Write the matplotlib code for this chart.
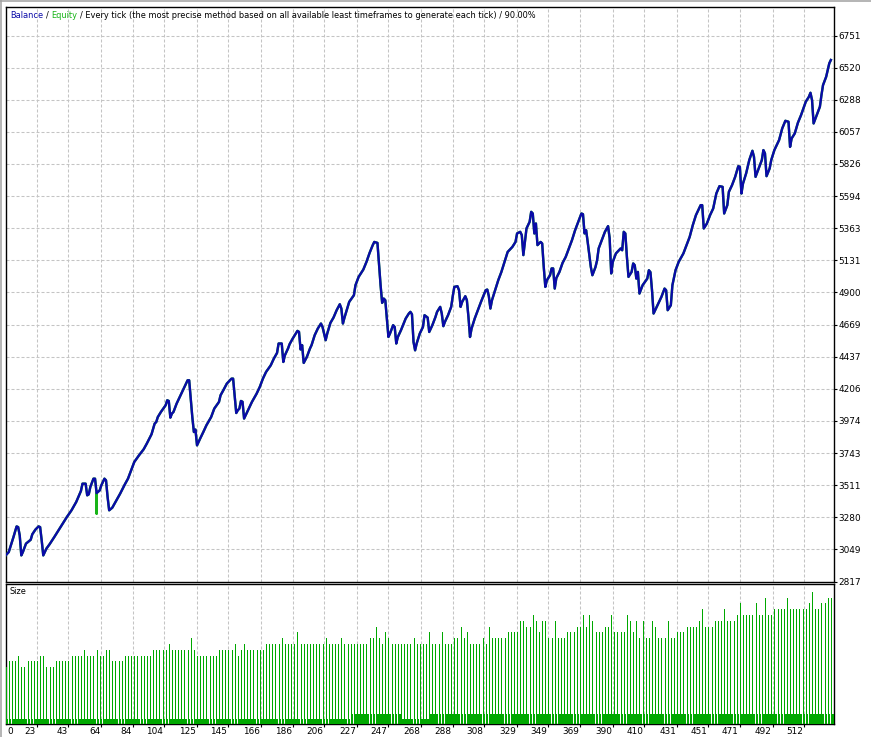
import numpy as np
import matplotlib
matplotlib.use("Agg")
import matplotlib.pyplot as plt
from matplotlib.lines import Line2D
import matplotlib.transforms as mtransforms

# ---------------- data ----------------
balance_idx = [
    3, 5, 6, 8, 10, 11, 12, 13, 14, 16,
    19, 20, 22, 24, 25, 26, 27, 29, 31, 34,
    38, 42, 45, 48, 51, 52, 54, 55, 56, 57,
    59, 60, 61, 63, 64, 66, 67, 68, 69, 71,
    73, 76, 79, 81, 83, 85, 88, 91, 93, 96,
    98, 99, 100, 102, 105, 106, 107, 108, 109, 110,
    112, 114, 116, 118, 119, 120, 121, 122, 123, 124,
    125, 127, 129, 131, 134, 136, 139, 140, 142, 144,
    147, 148, 149, 150, 151, 152, 153, 154, 155, 156,
    158, 160, 163, 165, 167, 169, 172, 174, 176, 177,
    179, 180, 181, 183, 184, 186, 189, 190, 191, 192,
    193, 195, 197, 198, 200, 202, 204, 205, 207, 208,
    210, 212, 214, 216, 217, 218, 219, 221, 222, 225,
    226, 228, 231, 233, 235, 237, 238, 240, 241, 242,
    243, 244, 245, 246, 247, 248, 250, 251, 252, 253,
    255, 258, 260, 261, 262, 263, 264, 265, 267, 269,
    270, 272, 273, 275, 277, 278, 280, 281, 282, 283,
    285, 287, 288, 289, 291, 292, 293, 294, 296, 297,
    298, 299, 300, 302, 304, 306, 309, 310, 311, 312,
    313, 315, 317, 319, 321, 323, 326, 328, 329, 331,
    332, 333, 334, 335, 337, 338, 339, 340, 341, 342,
    344, 345, 346, 347, 348, 350, 351, 352, 353, 354,
    356, 358, 360, 362, 364, 366, 368, 370, 371, 372,
    373, 374, 376, 377, 379, 380, 381, 383, 385, 387,
    388, 389, 390, 392, 395, 396, 397, 398, 399, 400,
    402, 403, 404, 405, 406, 407, 409, 412, 413, 414,
    415, 416, 418, 421, 423, 424, 425, 427, 428, 430,
    432, 435, 437, 439, 441, 443, 446, 447, 448, 450,
    452, 454, 456, 458, 460, 461, 463, 464, 466, 468,
    470, 471, 472, 473, 475, 477, 479, 480, 481, 483,
    485, 486, 487, 488, 490, 491, 493, 496, 498, 500,
    502, 503, 504, 506, 508, 510, 513, 515, 516, 517,
    518, 520, 522, 523, 524, 526, 528, 529,
]
balance_val = [
    3005, 3029, 3065, 3137, 3214, 3209, 3149, 3005, 3029, 3090,
    3118, 3157, 3191, 3214, 3209, 3113, 3005, 3054, 3085, 3137,
    3209, 3281, 3330, 3390, 3469, 3522, 3522, 3438, 3445, 3498,
    3558, 3558, 3454, 3474, 3510, 3558, 3546, 3426, 3330, 3349,
    3390, 3450, 3517, 3558, 3618, 3678, 3726, 3770, 3811, 3878,
    3955, 3966, 4002, 4039, 4087, 4123, 4118, 3998, 4027, 4039,
    4099, 4147, 4195, 4243, 4267, 4267, 4135, 4002, 3894, 3912,
    3798, 3847, 3894, 3943, 4002, 4063, 4111, 4159, 4200, 4243,
    4279, 4279, 4159, 4031, 4051, 4063, 4118, 4112, 3991, 4015,
    4063, 4111, 4171, 4219, 4279, 4327, 4375, 4424, 4464, 4532,
    4532, 4399, 4447, 4496, 4527, 4568, 4623, 4616, 4489, 4520,
    4392, 4435, 4496, 4520, 4592, 4640, 4676, 4651, 4556, 4604,
    4680, 4719, 4772, 4815, 4784, 4676, 4719, 4796, 4832, 4880,
    4952, 5012, 5065, 5120, 5185, 5241, 5264, 5257, 5109, 4952,
    4825, 4856, 4844, 4712, 4579, 4604, 4664, 4651, 4532, 4579,
    4628, 4712, 4748, 4760, 4743, 4543, 4483, 4532, 4604, 4651,
    4736, 4719, 4615, 4664, 4724, 4760, 4796, 4748, 4657, 4688,
    4736, 4796, 4873, 4940, 4945, 4916, 4796, 4832, 4873, 4844,
    4724, 4579, 4640, 4712, 4772, 4832, 4916, 4921, 4873, 4784,
    4844, 4916, 4988, 5048, 5120, 5192, 5228, 5264, 5325, 5337,
    5313, 5169, 5262, 5361, 5409, 5481, 5469, 5325, 5397, 5241,
    5264, 5253, 5084, 4940, 4988, 5024, 5073, 5073, 4928, 5003,
    5048, 5113, 5156, 5217, 5277, 5349, 5409, 5469, 5464, 5325,
    5349, 5264, 5084, 5024, 5084, 5132, 5217, 5277, 5337, 5378,
    5291, 5037, 5120, 5181, 5217, 5204, 5337, 5325, 5156, 5012,
    5048, 5109, 5096, 5000, 5048, 4892, 4952, 5000, 5060, 5046,
    4916, 4748, 4796, 4868, 4928, 4916, 4772, 4808, 4952, 5060,
    5120, 5181, 5241, 5300, 5385, 5457, 5529, 5529, 5361, 5397,
    5457, 5505, 5613, 5666, 5661, 5469, 5529, 5625, 5673, 5733,
    5810, 5805, 5613, 5685, 5758, 5854, 5921, 5877, 5733, 5794,
    5854, 5926, 5902, 5738, 5794, 5854, 5926, 5998, 6082, 6137,
    6130, 5949, 6010, 6046, 6123, 6178, 6274, 6310, 6339, 6286,
    6118, 6178, 6238, 6322, 6394, 6454, 6551, 6575,
]

# equity drawdown spike (floating loss) visible in green
equity_dip_idx = [61]
equity_dip_val = [3306]

# lot size of each trade (in 0.01 lots)
trade_lots = [
    10, 11, 11, 11, 12, 10, 10, 11, 11, 11, 11, 12, 12, 10, 10, 10,
    11, 11, 11, 11, 11, 12, 12, 12, 12, 13, 12, 12, 12, 13, 12, 12,
    13, 13, 11, 11, 11, 11, 12, 12, 12, 12, 12, 12, 12, 12, 12,
    13, 13, 13, 13, 13, 14, 13, 13, 13, 13, 13, 13, 15, 13,
    12, 12, 12, 12, 12, 12, 12, 13, 13, 13, 13, 13, 14, 12, 13, 14,
    13, 13, 13, 13, 13, 13, 14, 14, 14, 14, 14, 15, 14, 14, 14, 14,
    16, 14, 14, 14, 14, 14, 14, 14, 14, 15, 14, 14, 14, 14, 15,
    14, 14, 14, 14, 14, 14, 14, 14, 15, 15, 17, 15, 14, 16, 15,
    14, 14, 14, 14, 14, 14, 14, 15, 14, 14, 14, 14, 16, 14, 14, 14,
    16, 14, 14, 14, 15, 15, 17, 15, 16, 14, 14, 14, 14, 15, 14, 17,
    15, 15, 15, 15, 15, 16, 16, 16, 16, 18, 18, 17, 17, 19, 18, 16,
    18, 18, 15, 15, 18, 15, 15, 15, 16, 16, 16, 17, 17, 19, 17, 19,
    18, 16, 16, 16, 17, 17, 19, 16, 16, 16, 16, 19, 18, 16, 18, 15,
    18, 15, 15, 18, 17, 15, 15, 15, 18, 15, 15, 16, 16, 16,
    17, 17, 17, 17, 18, 20, 17, 17, 17, 18, 18, 18, 20, 18, 18, 18,
    19, 21, 19, 19, 19, 19, 21, 19, 19, 22, 19, 19, 20, 20, 20, 20,
    22, 20, 20, 20, 20, 20, 20, 21, 23, 20, 20, 21, 21, 22, 22,
]
# closing-deal stubs (in 0.01 lots), as runs of (level, count)
close_stub_runs = [(1, 110), (2, 16), (1, 9), (2, 129)]

y_tick_labels = [2817, 3049, 3280, 3511, 3743, 3974, 4206, 4437, 4669,
                 4900, 5131, 5363, 5594, 5826, 6057, 6288, 6520, 6751]
x_tick_labels = [0, 23, 43, 64, 84, 104, 125, 145, 166, 186, 206, 227, 247,
                 268, 288, 308, 329, 349, 369, 390, 410, 431, 451, 471, 492, 512]

title_parts_text = ["Balance", "/", "Equity",
                    "/ Every tick (the most precise method based on all available least timeframes to generate each tick) / 90.00%"]

# ---------------- styling ----------------
W, H = 871, 737
BLUE = '#0a0aa8'
GREEN = '#00a800'
EQ_GREEN = '#18b418'
GRID = '#c4c4c4'
FS = 6.4
FS_T = 5.95

fig = plt.figure(figsize=(W / 100, H / 100), dpi=100)
fig.patch.set_facecolor('white')


def fx(px):
    return px / W


def fy(py):
    return 1 - py / H


L, R = 5.5, 834.0
ax = fig.add_axes([fx(L), fy(581.5), fx(R) - fx(L), fy(7) - fy(581.5)])
ax2 = fig.add_axes([fx(L), fy(723.5), fx(R) - fx(L), fy(583.5) - fy(723.5)])

XLIM = (2.93, 531.0)
dash = (0, (2.9, 1.9))

# ---- main panel ----
eq_x = list(balance_idx)
eq_y = list(balance_val)
for di, dv in zip(equity_dip_idx, equity_dip_val):
    p = eq_x.index(di)
    eq_x[p + 1:p + 1] = [di, di]
    eq_y[p + 1:p + 1] = [dv, balance_val[p]]
ax.plot(eq_x, eq_y, color=EQ_GREEN, lw=1.7, zorder=3)
ax.plot(balance_idx, balance_val, color=BLUE, lw=1.7, zorder=4)

ax.set_xlim(*XLIM)
ax.set_ylim(2817, 6957)
ax.set_yticks(y_tick_labels)
ax.set_yticklabels([str(v) for v in y_tick_labels])
ax.yaxis.tick_right()
ax.tick_params(axis='y', direction='out', length=2.5, width=0.8, pad=0.8,
               labelsize=FS, colors='black')
ax.set_xticks(x_tick_labels[1:])
ax.tick_params(axis='x', length=0, labelbottom=False)
ax.grid(True, color=GRID, linestyle=dash, linewidth=0.75, zorder=0)
ax.set_axisbelow(True)
for s in ax.spines.values():
    s.set_linewidth(1.0)
    s.set_color('black')

# ---- size panel ----
n = len(trade_lots)
open_x = [3 + 2 * k for k in range(n)]
stub_levels = []
for lvl, cnt in close_stub_runs:
    stub_levels += [lvl] * cnt
stub_levels = stub_levels[:n]
stub_x = [4.1 + 2 * k for k in range(len(stub_levels))]
YB = 0.3
ax2.vlines(open_x, YB, trade_lots, colors=GREEN, linewidth=0.72,
           antialiased=False, zorder=3)
ax2.vlines(stub_x, YB, stub_levels, colors=GREEN, linewidth=1.44,
           antialiased=False, zorder=3)
ax2.set_xlim(*XLIM)
ax2.set_ylim(YB, YB + 140 / 5.8)
ax2.set_yticks([])
ax2.set_xticks(x_tick_labels[1:])
ax2.tick_params(axis='x', direction='out', length=2.5, width=0.8,
                labelbottom=False)
ax2.grid(True, axis='x', color=GRID, linestyle=dash, linewidth=0.75, zorder=0)
ax2.set_axisbelow(True)
for s in ax2.spines.values():
    s.set_linewidth(1.0)
    s.set_color('black')

fig.text(fx(9), fy(591.5), "Size", fontsize=FS_T, va='center', ha='left',
         color='black')

# x labels (right-aligned to gridline)
bt = mtransforms.blended_transform_factory(ax2.transData, fig.transFigure)
bt = mtransforms.offset_copy(bt, fig=fig, x=-1, y=0, units='dots')
for v in x_tick_labels[1:]:
    fig.text(v, fy(731.5), str(v), transform=bt, fontsize=FS,
             ha='right', va='center', color='black')
fig.text(fx(7), fy(731.5), str(x_tick_labels[0]), fontsize=FS,
         ha='left', va='center', color='black')

# ---- title (multi-coloured) ----
renderer = fig.canvas.get_renderer()


def width(s):
    t = fig.text(0, 0, s, fontsize=FS_T)
    w = t.get_window_extent(renderer).width
    t.remove()
    return w


x0 = 10
full = "Balance / Equity " + title_parts_text[3]
p_slash = x0 + width("Balance /") - width("/")
p_eq = x0 + width("Balance / Equity") - width("Equity")
p_rest = x0 + width(full) - width(title_parts_text[3])
for s, px, c in [(title_parts_text[0], x0, BLUE),
                 (title_parts_text[1], p_slash, 'black'),
                 (title_parts_text[2], p_eq, EQ_GREEN),
                 (title_parts_text[3], p_rest, 'black')]:
    fig.text(fx(px), fy(15), s, fontsize=FS_T, color=c, ha='left', va='center')

# window frame lines
fig.add_artist(Line2D([0, 1], [fy(0.7), fy(0.7)], transform=fig.transFigure,
                      color='#a0a0a0', lw=1.1))
fig.add_artist(Line2D([fx(0.7), fx(0.7)], [0, 1], transform=fig.transFigure,
                      color='#a0a0a0', lw=1.1))

fig.savefig("out.png", dpi=100, facecolor='white')
